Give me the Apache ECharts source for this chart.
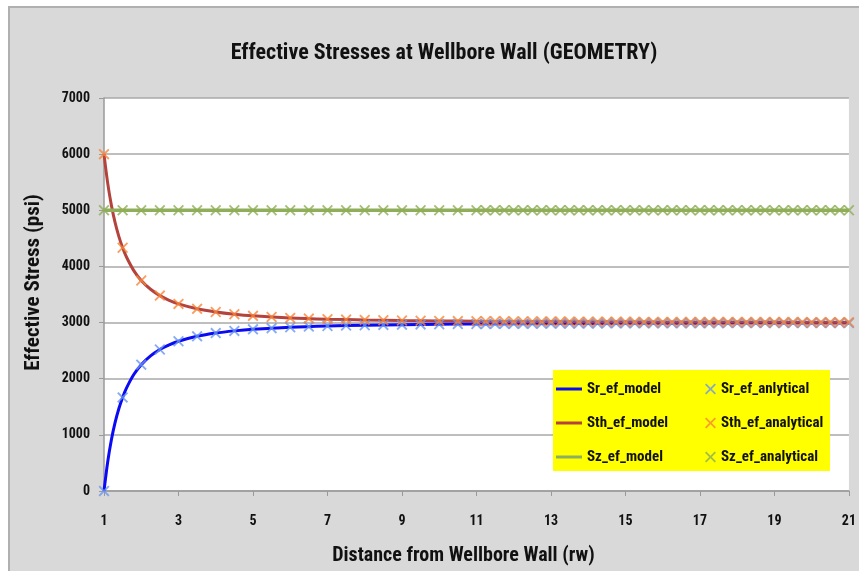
<!DOCTYPE html>
<html><head><meta charset="utf-8">
<script src="https://cdn.jsdelivr.net/npm/echarts@6/dist/echarts.min.js"></script>
<style>
html,body{margin:0;padding:0;background:#fff;overflow:hidden;}
#frame{position:absolute;left:8px;top:6px;width:860px;height:570px;background:#d9d9d9;border-left:2px solid #b0b0b0;border-top:2px solid #b0b0b0;}
#chart{position:absolute;left:0;top:0;width:859px;height:571px;}
</style></head><body><div id="frame"></div><div id="chart"></div>
<script>
// Analytical points: distance from wellbore wall (rw)
const rValues = [1,1.5,2,2.5,3,3.5,4,4.5,5,5.5,6,6.5,7,7.5,8,8.5,9,9.5,10,10.5,11,
  11.25,11.5,11.75,12,12.25,12.5,12.75,13,13.25,13.5,13.75,14,14.25,14.5,14.75,15,
  15.25,15.5,15.75,16,16.25,16.5,16.75,17,17.25,17.5,17.75,18,18.25,18.5,18.75,19,
  19.25,19.5,19.75,20,20.25,20.5,20.75,21];
// Effective radial stress, analytical (psi)
const srEf = [0,1667,2250,2520,2667,2755,2813,2852,2880,2901,2917,2929,2939,2947,2953,2958,2963,2967,2970,2973,2975,
  2976,2977,2978,2979,2980,2981,2982,2982,2983,2984,2984,2985,2985,2986,2986,2987,
  2987,2988,2988,2988,2989,2989,2989,2990,2990,2990,2991,2991,2991,2991,2992,2992,
  2992,2992,2992,2993,2993,2993,2993,2993];
// Effective tangential stress, analytical (psi)
const sthEf = [6000,4333,3750,3480,3333,3245,3188,3148,3120,3099,3083,3071,3061,3053,3047,3042,3037,3033,3030,3027,3025,
  3024,3023,3022,3021,3020,3019,3018,3018,3017,3016,3016,3015,3015,3014,3014,3013,
  3013,3012,3012,3012,3011,3011,3011,3010,3010,3010,3009,3009,3009,3009,3008,3008,
  3008,3008,3008,3007,3007,3007,3007,3007];
// Effective vertical stress, analytical (psi)
const szEf = [5000,5000,5000,5000,5000,5000,5000,5000,5000,5000,5000,5000,5000,5000,5000,5000,5000,5000,5000,5000,5000,
  5000,5000,5000,5000,5000,5000,5000,5000,5000,5000,5000,5000,5000,5000,5000,5000,
  5000,5000,5000,5000,5000,5000,5000,5000,5000,5000,5000,5000,5000,5000,5000,5000,
  5000,5000,5000,5000,5000,5000,5000,5000];

// Model curves
const modelR = [1,1.1,1.2,1.3,1.4,1.5,1.6,1.8,2,2.25,2.5,2.75,3,3.5,4,4.5,5,6,7,8,9,10,11,13,15,17,19,21];
const srModel = [0,521,917,1225,1469,1667,1828,2074,2250,2407,2520,2603,2667,2755,2813,2852,2880,2917,2939,2953,2963,2970,2975,2982,2987,2990,2992,2993];
const sthModel = [6000,5479,5083,4775,4531,4333,4172,3926,3750,3593,3480,3397,3333,3245,3188,3148,3120,3083,3061,3047,3037,3030,3025,3018,3013,3010,3008,3007];
const szModel = [5000,5000,5000,5000,5000,5000,5000,5000,5000,5000,5000,5000,5000,5000,5000,5000,5000,5000,5000,5000,5000,5000,5000,5000,5000,5000,5000,5000];

const xTicks = [1,3,5,7,9,11,13,15,17,19,21];
const yTicks = [0,1000,2000,3000,4000,5000,6000,7000];

const pairs = (xs, arr) => xs.map((r, i) => [r, arr[i]]);
const XPATH = 'path://M0,1.2L1.2,0L5,3.8L8.8,0L10,1.2L6.2,5L10,8.8L8.8,10L5,6.2L1.2,10L0,8.8L3.8,5Z';
const FONT = "'Liberation Sans Narrow','Roboto Condensed','Liberation Sans',Arial,sans-serif";

const chart = echarts.init(document.getElementById('chart'), null, {renderer: 'canvas'});
const lineS = (name, data, color, w) => ({
  name, type: 'line', data: pairs(modelR, data), symbol: 'none', showSymbol: false, smooth: 0.3,
  lineStyle: {color, width: w}, itemStyle: {color}, z: 2, animation: false
});
const markS = (name, data, color) => ({
  name, type: 'scatter', data: pairs(rValues, data), symbol: XPATH, symbolSize: 11,
  itemStyle: {color}, z: 3, animation: false
});
const legText = {fontFamily: FONT, fontWeight: 'bold', fontSize: 15, color: '#111', lineHeight: 16};
chart.setOption({
  backgroundColor: 'transparent',
  animation: false,
  title: {
    text: 'Effective Stresses at Wellbore Wall (GEOMETRY)',
    left: 439, top: 37, textAlign: 'center',
    textStyle: {fontFamily: FONT, fontWeight: 'bold', fontSize: 22, color: '#111'}
  },
  grid: {left: 104, top: 98, right: 8, bottom: 80, show: true, backgroundColor: '#fff', borderWidth: 0},
  xAxis: {
    type: 'value', min: xTicks[0], max: xTicks[xTicks.length - 1], interval: 2,
    name: 'Distance from Wellbore Wall (rw)', nameLocation: 'middle', nameGap: 55,
    nameTextStyle: {fontFamily: FONT, fontWeight: 'bold', fontSize: 20, color: '#111', padding: [0, 26, 0, 0]},
    axisLine: {lineStyle: {color: '#9a9a9a', width: 1.5}},
    axisTick: {show: true, length: 5, lineStyle: {color: '#9a9a9a'}},
    axisLabel: {fontFamily: FONT, fontWeight: 'bold', fontSize: 14, color: '#111', margin: 23},
    splitLine: {show: false}
  },
  yAxis: {
    type: 'value', min: yTicks[0], max: yTicks[yTicks.length - 1], interval: 1000,
    name: 'Effective Stress (psi)', nameLocation: 'middle', nameGap: 60,
    nameTextStyle: {fontFamily: FONT, fontWeight: 'bold', fontSize: 21, color: '#111', padding: [0, 0, 0, 24]},
    axisLine: {show: true, lineStyle: {color: '#9a9a9a', width: 1.5}},
    axisTick: {show: true, length: 5, lineStyle: {color: '#9a9a9a'}},
    axisLabel: {fontFamily: FONT, fontWeight: 'bold', fontSize: 14, color: '#111', margin: 14,
      formatter: v => String(v)},
    splitLine: {show: true, lineStyle: {color: '#a8a8a8', width: 1.5}}
  },
  graphic: [{
    type: 'rect', left: 553, top: 370, shape: {width: 277, height: 101},
    style: {fill: '#ffff00'}, z: 10
  }],
  legend: [{
    data: ['Sr_ef_model', 'Sth_ef_model', 'Sz_ef_model'],
    orient: 'vertical', left: 556, top: 381, itemWidth: 26, itemHeight: 3, itemGap: 18,
    icon: 'rect', padding: 0, z: 11, textStyle: legText
  }, {
    data: ['Sr_ef_anlytical', 'Sth_ef_analytical', 'Sz_ef_analytical'],
    orient: 'vertical', left: 705, top: 381, itemWidth: 11, itemHeight: 11, itemGap: 18,
    padding: 0, z: 11, textStyle: legText
  }],
  series: [
    lineS('Sr_ef_model', srModel, '#0a0af5', 3),
    lineS('Sth_ef_model', sthModel, '#b4433d', 3),
    lineS('Sz_ef_model', szModel, '#8fae5b', 3.5),
    markS('Sr_ef_anlytical', srEf, '#6a96ee'),
    markS('Sth_ef_analytical', sthEf, '#f7863a'),
    markS('Sz_ef_analytical', szEf, '#8eae55')
  ]
});
</script></body></html>
